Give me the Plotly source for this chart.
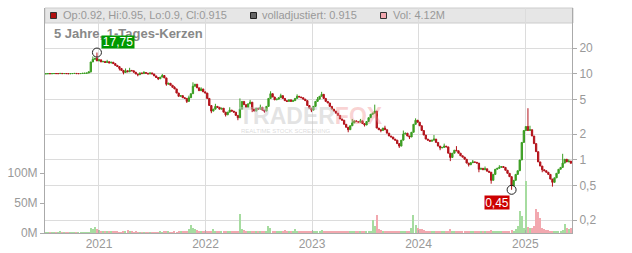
import math
import pandas as pd
import plotly.graph_objects as go

# ---------------- data ----------------
START = "2020-07-03"          # first weekly candle
FIRST_OPEN = 10.05

CLOSE = [
    10.05, 10.10, 10.08, 10.10, 10.12, 10.10, 10.10, 10.15, 10.10, 10.12,
    10.10, 10.08, 10.10, 10.12, 10.15, 10.10, 10.10, 10.12, 10.18, 10.20,
    10.25, 10.60, 13.80, 14.80, 15.20, 14.20, 14.60, 13.80, 14.00, 13.60,
    13.90, 13.40, 13.70, 13.20, 12.60, 12.20, 11.60, 11.00, 10.40, 10.90,
    10.60, 11.00, 10.90, 10.50, 10.00, 9.80, 10.30, 10.10, 10.40, 10.20,
    10.00, 10.30, 10.00, 9.50, 9.10, 8.80, 9.20, 9.60, 9.00, 7.60,
    7.80, 7.40, 7.00, 6.70, 6.00, 5.50, 5.60, 5.30, 5.20, 4.80,
    5.30, 5.90, 7.20, 7.60, 6.90, 6.40, 6.70, 6.20, 6.00, 5.20,
    4.30, 3.70, 3.90, 4.20, 4.10, 3.90, 4.00, 3.60, 3.35, 3.60,
    3.80, 3.70, 3.60, 3.30, 3.10, 3.90, 4.80, 4.40, 4.10, 4.50,
    4.70, 3.90, 3.70, 4.00, 3.90, 4.10, 3.80, 3.70, 4.20, 5.20,
    5.90, 5.40, 5.00, 5.10, 5.30, 5.60, 5.20, 4.90, 4.80, 5.00,
    4.80, 4.90, 5.20, 5.50, 5.40, 5.30, 5.10, 4.90, 4.30, 4.00,
    3.80, 4.20, 4.80, 5.10, 5.50, 5.80, 5.20, 4.80, 4.60, 4.20,
    3.90, 3.70, 3.50, 3.30, 3.00, 2.90, 2.60, 2.40, 2.25, 2.50,
    2.70, 2.85, 2.80, 2.75, 2.85, 2.65, 2.55, 2.80, 3.10, 3.40,
    3.50, 3.70, 2.35, 2.25, 2.20, 2.35, 2.25, 2.05, 1.90, 1.85,
    1.75, 1.70, 1.55, 1.45, 1.70, 2.00, 2.05, 1.90, 1.85, 2.10,
    2.60, 2.90, 2.75, 2.50, 2.20, 1.95, 1.75, 1.70, 1.65, 1.70,
    1.75, 1.60, 1.45, 1.38, 1.40, 1.45, 1.42, 1.20, 1.07, 1.20,
    1.30, 1.28, 1.20, 1.12, 1.08, 1.02, 0.92, 0.88, 0.93, 0.95,
    0.94, 0.92, 0.78, 0.80, 0.77, 0.79, 0.74, 0.72, 0.58, 0.68,
    0.78, 0.80, 0.82, 0.84, 0.82, 0.76, 0.70, 0.64, 0.50, 0.58,
    0.68, 0.75, 1.00, 1.60, 2.20, 2.45, 2.20, 2.25, 1.90, 1.55,
    1.25, 0.95, 0.85, 0.77, 0.75, 0.72, 0.68, 0.60, 0.55, 0.62,
    0.70, 0.78, 0.82, 0.92, 1.02, 0.95, 0.97, 0.915,
]

VOLUME_M = [
    0.3, 0.3, 0.3, 0.3, 0.3, 0.3, 0.3, 2.0, 0.3, 0.3,
    0.3, 0.3, 0.3, 0.3, 0.3, 0.3, 0.3, 0.3, 0.3, 0.3,
    0.3, 0.5, 8, 7, 10, 6, 5, 4, 3, 3,
    4, 3, 2.5, 2, 1.8, 2, 1.5, 1.5, 2, 3,
    5, 3, 2, 1.5, 2, 1.5, 1.2, 1.5, 1.2, 1,
    1.5, 1.2, 1, 1.5, 1.2, 1, 2, 1.5, 2, 2.5,
    2, 1.5, 1.5, 2, 1.5, 2, 2, 2.5, 3, 4,
    6, 14, 9, 7, 5, 3, 3, 2.5, 3, 2.5,
    3, 4, 6, 3, 2.5, 2, 2, 2, 2, 2.5,
    2, 2, 2.5, 2, 3, 32, 6, 5, 4, 3,
    2.5, 3, 2, 2.5, 2, 2.5, 2, 2, 3, 12,
    8, 4, 3, 3, 2.5, 3, 3, 5, 3, 2.5,
    3, 3, 6, 3, 2.5, 3, 2.5, 3, 2.5, 3,
    2.5, 3, 3, 3.5, 4, 5, 3, 2.5, 2.5, 2,
    2, 2, 2.5, 2, 2, 2.5, 2, 2.5, 3, 2.5,
    2, 2, 2, 2.5, 2, 2, 2.5, 3, 3, 4,
    22, 12, 30, 6, 5, 4, 3.5, 3, 3, 4,
    3, 3, 3.5, 4, 4, 3.5, 3, 3.5, 4, 8,
    30, 14, 8, 7, 6, 5, 4, 4, 3.5, 3,
    3, 3, 3, 3.5, 3, 3, 3, 4, 7, 4,
    3, 3, 3, 2.5, 3, 2.5, 2.5, 3, 3, 2.5,
    2.5, 3, 3, 2.5, 2.5, 3, 3, 3, 5, 3,
    2.5, 2.5, 3, 3, 2.5, 3, 3, 4, 5, 4,
    6, 12, 37, 28, 8, 87, 10, 8, 8, 12,
    40, 35, 25, 8, 6, 5, 5, 4, 3, 3,
    3, 3.5, 4, 5, 15, 8, 6, 8,
]

# visible wick extremes (week index -> value)
WICK_HIGH = {
    23: 16.0, 25: 17.75, 26: 15.0, 30: 14.6, 39: 11.6, 41: 11.8, 48: 10.8,
    57: 10.0, 63: 7.2, 70: 5.6, 72: 8.0, 76: 7.0, 83: 4.5, 90: 4.1,
    95: 5.2, 100: 5.0, 105: 4.4, 110: 6.3, 115: 5.9, 123: 5.8, 133: 5.4,
    135: 6.2, 150: 3.0, 154: 3.0, 161: 4.4, 166: 2.5, 175: 2.2, 181: 3.05,
    190: 1.95, 195: 1.55, 201: 1.45, 209: 1.0, 215: 0.84, 222: 0.87,
    236: 4.0, 237: 2.5, 253: 1.18, 256: 1.02,
}
WICK_LOW = {
    22: 10.4, 36: 11.0, 38: 9.9, 45: 9.4, 55: 8.5, 59: 7.3, 69: 4.6,
    81: 3.5, 88: 3.2, 94: 2.9, 101: 3.6, 107: 3.55, 130: 3.6, 148: 2.1,
    156: 2.45, 164: 2.1, 173: 1.38, 178: 1.75, 193: 1.3, 198: 0.97,
    207: 0.84, 212: 0.72, 218: 0.53, 228: 0.45, 243: 0.72, 248: 0.49,
}

YEAR_TICKS = ["2021-01-01", "2022-01-01", "2023-01-01", "2024-01-01", "2025-01-01"]
YEAR_LABELS = ["2021", "2022", "2023", "2024", "2025"]
X_RANGE = ["2020-06-30", "2025-06-10"]

PRICE_TICKS = [0.2, 0.5, 1, 2, 5, 10, 20]
PRICE_LABELS = ["0,2", "0,5", "1", "2", "5", "10", "20"]
PRICE_RANGE = [0.1416, 58.5]

VOL_TICKS = [0, 50, 100]
VOL_LABELS = ["0M", "50M", "100M"]
VOL_RANGE = [0, 375]

HEADER_OHLC = "Op:0.92, Hi:0.95, Lo:0.9, Cl:0.915"
HEADER_ADJ = "volladjustiert: 0.915"
HEADER_VOL = "Vol: 4.12M"
TITLE = "5 Jahre, 1-Tages-Kerzen"

# ---------------- derived ----------------
dates = pd.date_range(START, periods=len(CLOSE), freq="7D")
opens = [FIRST_OPEN] + CLOSE[:-1]
highs = [max(WICK_HIGH.get(i, 0), o, c) for i, (o, c) in enumerate(zip(opens, CLOSE))]
lows = [min(WICK_LOW.get(i, 1e9), o, c) for i, (o, c) in enumerate(zip(opens, CLOSE))]

UP = "#3b9e22"
DOWN = "#b3121a"
VOL_UP = "#a6dca0"
VOL_DOWN = "#f2a8af"
vol_colors = [VOL_UP if c >= o else VOL_DOWN for o, c in zip(opens, CLOSE)]

W, H = 632, 253
ML, MR, MT, MB = 45, 60, 8, 20
PW, PH = W - ML - MR, H - MT - MB


def px_x(px):
    return (px - ML) / PW


def px_y(py):
    return (H - MB - py) / PH


fig = go.Figure()

fig.add_trace(go.Bar(
    x=dates, y=VOLUME_M, yaxis="y", width=4 * 86400000,
    marker=dict(color=vol_colors, line=dict(width=0)),
    hoverinfo="skip", showlegend=False,
))

fig.add_trace(go.Candlestick(
    x=dates, open=opens, high=highs, low=lows, close=CLOSE, yaxis="y2",
    increasing=dict(line=dict(color=UP, width=1), fillcolor=UP),
    decreasing=dict(line=dict(color=DOWN, width=1), fillcolor=DOWN),
    whiskerwidth=0, hoverinfo="skip", showlegend=False,
))

i_hi = max(range(len(highs)), key=lambda i: highs[i])
i_lo = min(range(len(lows)), key=lambda i: lows[i])

fig.add_trace(go.Scatter(
    x=[dates[i_hi], dates[i_lo]], y=[highs[i_hi], lows[i_lo]], yaxis="y2",
    mode="markers",
    marker=dict(symbol="circle-open", size=9, color="#222222", line=dict(width=1)),
    hoverinfo="skip", showlegend=False,
))

grid = "#dcdcdc"
axcol = "#aaaaaa"
tickfont = dict(size=12, color="#999999")

fig.update_layout(
    width=W, height=H,
    margin=dict(l=ML, r=MR, t=MT, b=MB, autoexpand=False),
    paper_bgcolor="white", plot_bgcolor="white",
    font=dict(family="Liberation Sans, Arial, sans-serif"),
    showlegend=False,
    bargap=0, boxgap=0.1,
    xaxis=dict(
        type="date", range=X_RANGE, tickvals=YEAR_TICKS, ticktext=YEAR_LABELS,
        showgrid=True, gridcolor=grid, gridwidth=1, zeroline=False,
        showline=True, linecolor=axcol, ticks="inside", ticklen=3, tickcolor=axcol,
        tickfont=tickfont, rangeslider=dict(visible=False), automargin=False,
    ),
    yaxis=dict(
        range=VOL_RANGE, tickvals=VOL_TICKS, ticktext=VOL_LABELS, side="left",
        showgrid=False, zeroline=False, showline=True, linecolor=axcol,
        ticks="outside", ticklen=4, tickcolor=axcol, tickfont=tickfont,
        automargin=False,
    ),
    yaxis2=dict(
        type="log", range=[math.log10(PRICE_RANGE[0]), math.log10(PRICE_RANGE[1])],
        overlaying="y", side="right", anchor="x",
        tickvals=PRICE_TICKS, ticktext=PRICE_LABELS,
        showgrid=True, gridcolor=grid, gridwidth=1, zeroline=False,
        showline=True, linecolor=axcol, ticks="outside", ticklen=4, tickcolor=axcol,
        tickfont=tickfont, automargin=False,
    ),
)

shapes = [
    dict(type="rect", xref="paper", yref="paper", x0=px_x(45), x1=px_x(573),
         y0=px_y(23), y1=px_y(8), fillcolor="#e6e6e6", line=dict(color="#cccccc", width=1),
         layer="below"),
    dict(type="rect", xref="paper", yref="paper", x0=px_x(50.5), x1=px_x(56.5),
         y0=px_y(18.5), y1=px_y(12.5), fillcolor="#b01010", line=dict(color="#333333", width=1)),
    dict(type="rect", xref="paper", yref="paper", x0=px_x(250.5), x1=px_x(256.5),
         y0=px_y(18.5), y1=px_y(12.5), fillcolor="#666666", line=dict(color="#222222", width=1)),
    dict(type="rect", xref="paper", yref="paper", x0=px_x(380.5), x1=px_x(386.5),
         y0=px_y(18.5), y1=px_y(12.5), fillcolor="#f2a8af", line=dict(color="#333333", width=1)),
]
fig.update_layout(shapes=shapes)

hfont = dict(size=11, color="#999999")
ann = [
    dict(text=HEADER_OHLC, x=px_x(60.5), y=px_y(15.5), xanchor="left", yanchor="middle", font=hfont),
    dict(text=HEADER_ADJ, x=px_x(260), y=px_y(15.5), xanchor="left", yanchor="middle", font=hfont),
    dict(text=HEADER_VOL, x=px_x(390.5), y=px_y(15.5), xanchor="left", yanchor="middle", font=hfont),
    dict(text="<b>" + TITLE + "</b>", x=px_x(51.5), y=px_y(33.5), xanchor="left", yanchor="middle",
         font=dict(size=13, color="#888888")),
    dict(text="<b><span style='color:rgba(200,200,200,0.5)'>TRADER</span>"
              "<span style='color:rgba(240,140,140,0.38)'>FOX</span></b>",
         x=px_x(310.5), y=px_y(116), xanchor="center", yanchor="middle",
         font=dict(size=23)),
    dict(text="REALTIME STOCK SCREENING", x=px_x(285), y=px_y(130.5), xanchor="center",
         yanchor="middle", font=dict(size=6, color="rgba(190,190,190,0.55)")),
]
for a in ann:
    a.update(xref="paper", yref="paper", showarrow=False)

ann.append(dict(
    text=f"{highs[i_hi]:g}".replace(".", ","), x=dates[i_hi], y=math.log10(highs[i_hi]),
    xref="x", yref="y2", showarrow=False, xanchor="left", yanchor="bottom",
    xshift=4, yshift=3.5, bgcolor="#009900", borderpad=0, width=32, height=12,
    font=dict(size=12, color="white"),
))
ann.append(dict(
    text=f"{lows[i_lo]:g}".replace(".", ","), x=dates[i_lo], y=math.log10(lows[i_lo]),
    xref="x", yref="y2", showarrow=False, xanchor="right", yanchor="top",
    xshift=-2, yshift=-5, bgcolor="#cc0000", borderpad=0, width=24, height=13,
    font=dict(size=12, color="white"),
))
fig.update_layout(annotations=ann)

fig.write_html("out.html")
